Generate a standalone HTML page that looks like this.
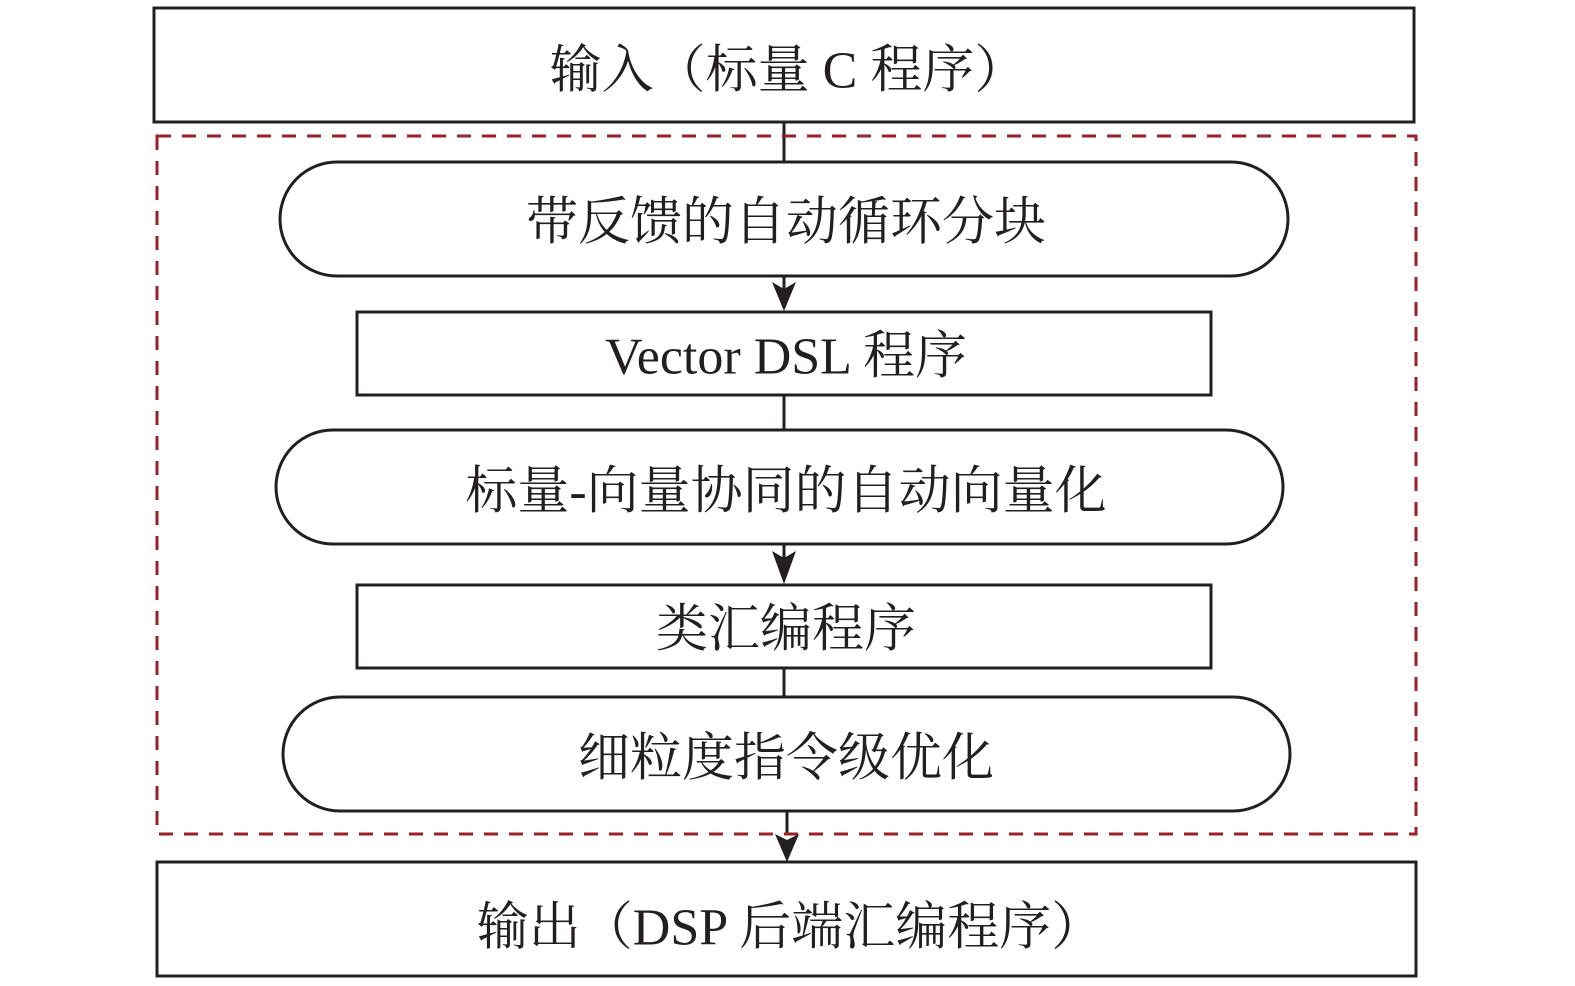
<!DOCTYPE html>
<html><head><meta charset="utf-8"><style>
html,body{margin:0;padding:0;background:#fff;}
svg{display:block;}
text{font-family:"Liberation Serif","Noto Serif CJK SC",serif;font-size:52px;fill:#231f20;text-anchor:middle;dominant-baseline:central;}
</style></head><body>
<svg width="1575" height="986" viewBox="0 0 1575 986" xmlns="http://www.w3.org/2000/svg">
<g fill="none" stroke="#231f20" stroke-width="3">
<rect x="154" y="8" width="1260" height="114"/>
<line x1="784" y1="122" x2="784" y2="162"/>
<rect x="280" y="162" width="1008" height="114" rx="57"/>
<line x1="784" y1="276" x2="784" y2="290"/>
<rect x="357" y="312" width="854" height="83"/>
<line x1="784" y1="395" x2="784" y2="430"/>
<rect x="276" y="430" width="1007" height="114" rx="57"/>
<line x1="784" y1="544" x2="784" y2="558"/>
<rect x="357" y="585" width="854" height="83"/>
<line x1="784" y1="668" x2="784" y2="697"/>
<rect x="283" y="697" width="1007" height="114" rx="57"/>
<line x1="787" y1="811" x2="787" y2="835"/>
<rect x="157" y="862" width="1259" height="114"/>
</g>
<rect x="157" y="136" width="1259" height="698" fill="none" stroke="#9b2226" stroke-width="3" stroke-dasharray="14 11"/>
<g fill="#231f20">
<path d="M772 282 L784 289 L796 282 L784 311 Z"/>
<path d="M772 551 L784 558 L796 551 L784 584 Z"/>
<path d="M775 834 L787 840 L799 834 L787 862 Z"/>
</g>
<text x="788" y="71">输入（标量 C 程序）</text>
<text x="786" y="223">带反馈的自动循环分块</text>
<text x="786" y="357">Vector DSL 程序</text>
<text x="786" y="492">标量-向量协同的自动向量化</text>
<text x="786" y="630">类汇编程序</text>
<text x="786" y="759">细粒度指令级优化</text>
<text x="790" y="928">输出（DSP 后端汇编程序）</text>
</svg>
</body></html>
